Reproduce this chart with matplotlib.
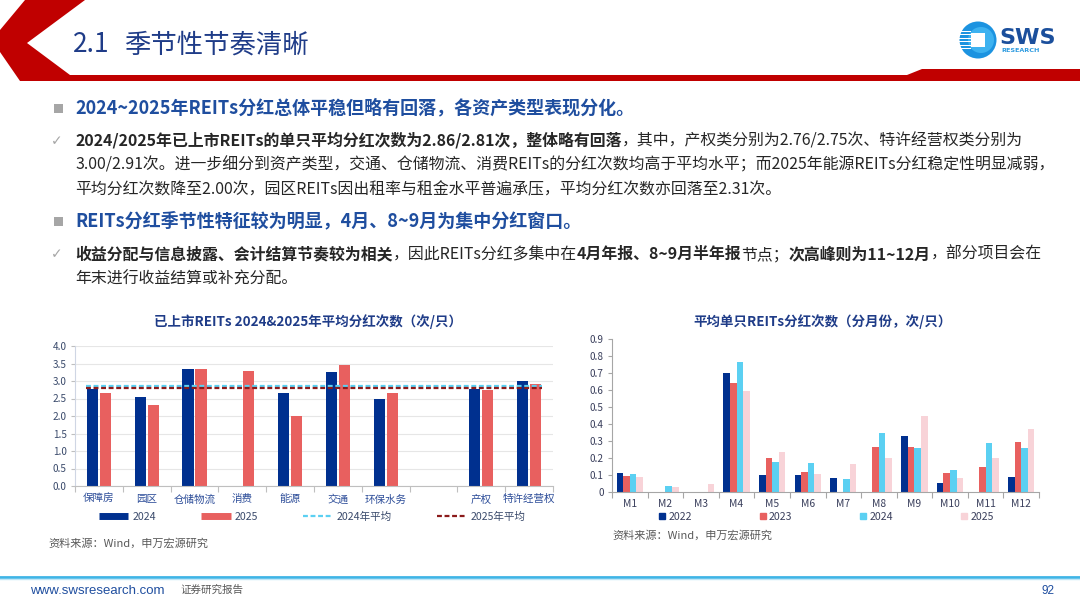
import matplotlib
matplotlib.use('Agg')
import matplotlib.pyplot as plt
from matplotlib.patches import Polygon, Rectangle, Circle
from matplotlib.lines import Line2D
import numpy as np

plt.rcParams['font.family'] = ['Noto Sans CJK SC', 'DejaVu Sans']

# ---------------- data ----------------
left_cats = ['保障房', '园区', '仓储物流', '消费', '能源', '交通', '环保水务', '', '产权', '特许经营权']
left_2024 = [2.76, 2.55, 3.35, np.nan, 2.67, 3.25, 2.50, np.nan, 2.76, 3.00]
left_2025 = [2.67, 2.31, 3.35, 3.30, 2.00, 3.47, 2.67, np.nan, 2.75, 2.91]
avg_2024 = 2.86
avg_2025 = 2.81
left_yticks = [0.0, 0.5, 1.0, 1.5, 2.0, 2.5, 3.0, 3.5, 4.0]

months = ['M1', 'M2', 'M3', 'M4', 'M5', 'M6', 'M7', 'M8', 'M9', 'M10', 'M11', 'M12']
m_2022 = [0.112, 0.0, 0.0, 0.70, 0.102, 0.102, 0.081, 0.0, 0.33, 0.055, 0.0, 0.091]
m_2023 = [0.093, 0.0, 0.0, 0.64, 0.20, 0.116, 0.0, 0.266, 0.266, 0.112, 0.146, 0.297]
m_2024 = [0.104, 0.037, 0.0, 0.764, 0.175, 0.171, 0.077, 0.35, 0.256, 0.132, 0.291, 0.256]
m_2025 = [0.087, 0.031, 0.045, 0.594, 0.234, 0.104, 0.163, 0.20, 0.447, 0.081, 0.20, 0.37]
right_yticks = [0, 0.1, 0.2, 0.3, 0.4, 0.5, 0.6, 0.7, 0.8, 0.9]
right_ytlabels = ['0', '0.1', '0.2', '0.3', '0.4', '0.5', '0.6', '0.7', '0.8', '0.9']

# ---------------- colours ----------------
NAVY = '#00308F'
SALMON = '#E8605F'
CYAN = '#5BD0F2'
PINK = '#F8D3D8'
DARKRED = '#8B1A1A'
RED = '#C00000'
HBLUE = '#1F4E9F'
TBLUE = '#1F3C88'
TXT = '#262626'

W, H = 1080, 608
fig = plt.figure(figsize=(10.8, 6.08), dpi=100)
fig.patch.set_facecolor('white')

bg = fig.add_axes([0, 0, 1, 1], zorder=0)
bg.set_xlim(0, W)
bg.set_ylim(H, 0)
bg.axis('off')

# ---------------- header ----------------
bg.add_patch(Polygon([(25, 0), (85, 0), (27, 43), (70, 75), (907, 75), (922, 69),
                      (1080, 69), (1080, 81), (20, 81), (0, 52), (0, 30)],
                     closed=True, facecolor=RED, edgecolor='none'))
bg.text(73, 45, '2.1', fontsize=19, color=TBLUE, va='center', ha='left')
bg.text(124, 45, '季节性节奏清晰', fontsize=19, color=TBLUE, va='center', ha='left')

# logo
bg.add_patch(Circle((978, 40), 18.5, facecolor='#1C93E0', edgecolor='none'))
bg.add_patch(Circle((981, 40), 13, facecolor='#3DB2F0', edgecolor='none'))
bg.add_patch(Rectangle((971, 33), 14, 14, facecolor='white', edgecolor='none'))
for yy in [30.5, 34, 37.5, 41, 44.5, 48]:
    bg.add_patch(Rectangle((958, yy), 13, 1.3, facecolor='white', edgecolor='none'))
bg.text(999, 38, 'SWS', fontsize=16, fontweight='bold', color='#1B4F9C',
        va='center', ha='left', family=['DejaVu Sans'])
bg.text(1001, 51, 'RESEARCH', fontsize=4.6, fontweight='bold', color='#2E9BE0',
        va='center', ha='left', family=['DejaVu Sans'])

# ---------------- body text ----------------
fig.canvas.draw()
renderer = fig.canvas.get_renderer()


def seg_line(x, y, segments, size, color):
    for s, bold in segments:
        t = bg.text(x, y, s, fontsize=size, color=color, va='baseline', ha='left',
                    fontweight='bold' if bold else 'normal')
        bb = t.get_window_extent(renderer)
        x += bb.width


def square_bullet(y):
    bg.add_patch(Rectangle((54, y - 4.5), 9, 9, facecolor='#A6A6A6', edgecolor='none'))


def check(y):
    bg.text(57, y, '✓', fontsize=10, color='#A6A6A6', va='center', ha='center',
            family=['DejaVu Sans'])

BODY = 11.45
HEAD = 13.0

square_bullet(108)
seg_line(75, 113, [('2024~2025年REITs分红总体平稳但略有回落，各资产类型表现分化。', True)], HEAD, HBLUE)

check(141)
seg_line(75, 146, [('2024/2025年已上市REITs的单只平均分红次数为2.86/2.81次，整体略有回落', True),
                   ('，其中，产权类分别为2.76/2.75次、特许经营权类分别为', False)], BODY, TXT)
seg_line(75, 169, [('3.00/2.91次。进一步细分到资产类型，交通、仓储物流、消费REITs的分红次数均高于平均水平；而2025年能源REITs分红稳定性明显减弱，', False)], BODY, TXT)
seg_line(75, 194, [('平均分红次数降至2.00次，园区REITs因出租率与租金水平普遍承压，平均分红次数亦回落至2.31次。', False)], BODY, TXT)

square_bullet(221)
seg_line(75, 226, [('REITs分红季节性特征较为明显，4月、8~9月为集中分红窗口。', True)], HEAD, HBLUE)

check(254)
seg_line(75, 259, [('收益分配与信息披露、会计结算节奏较为相关', True),
                   ('，因此REITs分红多集中在', False),
                   ('4月年报、8~9月半年报', True),
                   ('节点；', False),
                   ('次高峰则为11~12月', True),
                   ('，部分项目会在', False)], BODY, TXT)
seg_line(75, 284, [('年末进行收益结算或补充分配。', False)], BODY, TXT)


def px_axes(x0, y0, x1, y1):
    return fig.add_axes([x0 / W, 1 - y1 / H, (x1 - x0) / W, (y1 - y0) / H], zorder=2)

# ---------------- left chart ----------------
bg.text(308, 322, '已上市REITs 2024&2025年平均分红次数（次/只）', fontsize=9.7,
        fontweight='bold', color=TBLUE, ha='center', va='center')
axL = px_axes(75, 346, 553, 486)
x = np.arange(len(left_cats))
bw = 0.235
axL.bar(x - 0.135, left_2024, width=bw, color=NAVY, zorder=2, label='2024')
axL.bar(x + 0.135, left_2025, width=bw, color=SALMON, zorder=2, label='2025')
axL.hlines(avg_2024, -0.26, len(left_cats) - 1 + 0.26, colors=CYAN, linestyles=(0, (2.2, 1.2)),
           lw=1.6, zorder=3)
axL.hlines(avg_2025, -0.26, len(left_cats) - 1 + 0.26, colors=DARKRED, linestyles=(0, (2.2, 1.2)),
           lw=1.6, zorder=3)
axL.set_xlim(-0.5, len(left_cats) - 0.5)
axL.set_ylim(0, 4.0)
axL.set_yticks(left_yticks)
axL.set_yticklabels([f'{v:.1f}' for v in left_yticks])
axL.yaxis.grid(True, color='#E6E6E6', lw=0.8, zorder=0)
axL.set_axisbelow(True)
axL.set_xticks(x)
axL.set_xticklabels(left_cats)
axL.set_xticks(np.arange(len(left_cats) + 1) - 0.5, minor=True)
axL.tick_params(axis='x', which='major', length=0, pad=6, labelsize=7.6, labelcolor='#2F4F9A')
axL.tick_params(axis='x', which='minor', length=4, color='#BFBFBF', width=0.8)
axL.tick_params(axis='y', length=3, color='#BFBFBF', width=0.8, labelsize=7.2, labelcolor='#3A4A6B', pad=3)
for s in ['top', 'right']:
    axL.spines[s].set_visible(False)
axL.spines['left'].set_color('#CFD6E4')
axL.spines['bottom'].set_color('#BFBFBF')
axL.set_facecolor('none')

hL = [Line2D([], [], color=NAVY, lw=5, solid_capstyle='butt'),
      Line2D([], [], color=SALMON, lw=5, solid_capstyle='butt'),
      Line2D([], [], color=CYAN, lw=1.6, ls=(0, (2.2, 1.2))),
      Line2D([], [], color=DARKRED, lw=1.6, ls=(0, (2.2, 1.2)))]
legL = axL.legend(hL, ['2024', '2025', '2024年平均', '2025年平均'], ncol=4, frameon=False,
                  loc='center', bbox_to_anchor=(312 / W, 1 - 517 / H), bbox_transform=fig.transFigure,
                  fontsize=7.6, handlelength=2.8, handletextpad=0.35, columnspacing=4.3,
                  labelcolor='#3A4A6B')
bg.text(48, 543, '资料来源：Wind，申万宏源研究', fontsize=8, color='#595959', va='center', ha='left')

# ---------------- right chart ----------------
bg.text(823, 322, '平均单只REITs分红次数（分月份，次/只）', fontsize=9.7,
        fontweight='bold', color=TBLUE, ha='center', va='center')
axR = px_axes(612, 339, 1039, 492)
xm = np.arange(len(months))
mw = 0.185
series = [(m_2022, NAVY, '2022'), (m_2023, SALMON, '2023'), (m_2024, CYAN, '2024'), (m_2025, PINK, '2025')]
for i, (vals, col, lab) in enumerate(series):
    axR.bar(xm + (i - 1.5) * mw, vals, width=mw, color=col, label=lab, zorder=2)
axR.set_xlim(-0.5, len(months) - 0.5)
axR.set_ylim(0, 0.9)
axR.set_yticks(right_yticks)
axR.set_yticklabels(right_ytlabels)
axR.set_xticks(xm)
axR.set_xticklabels(months)
axR.set_xticks(np.arange(len(months) + 1) - 0.5, minor=True)
axR.tick_params(axis='x', which='major', length=0, pad=5, labelsize=7.4, labelcolor='#3A3F5C')
axR.tick_params(axis='x', which='minor', length=4, color='#A6A6A6', width=0.8)
axR.tick_params(axis='y', length=3, color='#A6A6A6', width=0.8, labelsize=7.2, labelcolor='#3A3F5C', pad=3)
for s in ['top', 'right']:
    axR.spines[s].set_visible(False)
axR.spines['left'].set_color('#A6A6A6')
axR.spines['bottom'].set_color('#A6A6A6')
axR.set_facecolor('none')

hR = [Line2D([], [], color=c, marker='s', ms=5, ls='none') for _, c, _ in series]
axR.legend(hR, [lab for _, _, lab in series], ncol=4, frameon=False, loc='center',
           bbox_to_anchor=(826 / W, 1 - 517 / H), bbox_transform=fig.transFigure,
           fontsize=7.6, handlelength=0.7, handletextpad=0.25, columnspacing=6.35,
           labelcolor='#3A3F5C')
bg.text(612, 535, '资料来源：Wind，申万宏源研究', fontsize=8, color='#595959', va='center', ha='left')

# ---------------- footer ----------------
bg.plot([0, W], [577, 577], color='#3FB4E6', lw=2.0)
bg.plot([0, W], [579, 579], color='#BFE6F7', lw=1.0)
bg.text(30, 591, 'www.swsresearch.com', fontsize=9.5, color=HBLUE, va='center', ha='left',
        family=['Liberation Sans'])
bg.text(180, 590, '证券研究报告', fontsize=7.6, color='#595959', va='center', ha='left')
bg.text(1042, 591, '92', fontsize=8.5, color=HBLUE, va='center', ha='left', family=['Liberation Sans'])

fig.savefig('out.png', dpi=100, facecolor='white')
